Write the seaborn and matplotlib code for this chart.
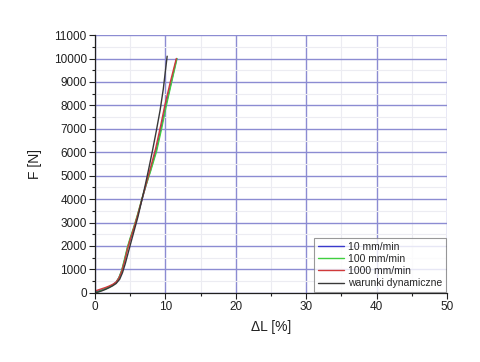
import numpy as np
import pandas as pd
import matplotlib
matplotlib.use("Agg")
import matplotlib.pyplot as plt
import seaborn as sns
from matplotlib.ticker import MultipleLocator

series_names = ["10 mm/min", "100 mm/min", "1000 mm/min", "warunki dynamiczne"]
colors = ["#3a3acc", "#3fcf3f", "#d03a3a", "#383838"]

blue_x = [0, 0.5, 1, 1.5, 2, 2.5, 3, 3.4, 3.8, 4.2, 4.6, 5.0, 5.5, 6.0, 6.6, 7.2, 7.9, 8.7, 9.4, 10.05, 10.8, 11.6]
blue_y = [30, 80, 130, 190, 260, 340, 460, 650, 950, 1400, 1900, 2300, 2750, 3250, 3900, 4550, 5250, 6100, 7050, 8000, 8950, 10000]

green_x = [0, 0.5, 1, 1.5, 2, 2.5, 3, 3.4, 3.8, 4.2, 4.6, 5.0, 5.5, 6.0, 6.6, 7.2, 7.9, 8.75, 9.45, 10.1, 10.85, 11.65]
green_y = [0, 50, 110, 170, 240, 320, 450, 650, 970, 1450, 1950, 2350, 2800, 3300, 3950, 4550, 5200, 6050, 7000, 7950, 8950, 10000]

red_x = [0, 0.5, 1, 1.5, 2, 2.5, 3, 3.4, 3.8, 4.2, 4.6, 5.0, 5.5, 6.0, 6.6, 7.2, 7.85, 8.6, 9.3, 9.95, 10.7, 11.55]
red_y = [80, 130, 180, 230, 290, 360, 460, 630, 920, 1350, 1850, 2280, 2750, 3250, 3920, 4580, 5300, 6150, 7100, 8050, 9000, 10000]

black_x = [0, 0.5, 1, 1.5, 2, 2.5, 3, 3.5, 3.9, 4.3, 4.7, 5.1, 5.6, 6.1, 6.6, 7.1, 7.6, 8.15, 8.7, 9.25, 9.7, 10.05, 10.25]
black_y = [0, 40, 90, 150, 220, 300, 400, 580, 860, 1250, 1700, 2150, 2700, 3250, 3900, 4550, 5250, 6050, 6900, 7800, 8700, 9600, 10100]

all_x = [blue_x, green_x, red_x, black_x]
all_y = [blue_y, green_y, red_y, black_y]

frames = []
for name, xs, ys in zip(series_names, all_x, all_y):
    frames.append(pd.DataFrame({"dL": xs, "F": ys, "seria": name}))
df = pd.concat(frames, ignore_index=True)

sns.set_theme(style="white")
plt.rcParams["font.family"] = ["Liberation Sans", "DejaVu Sans"]

fig = plt.figure(figsize=(4.8, 3.62), dpi=100)
ax = fig.add_axes([0.198, 0.191, 0.733, 0.712])

sns.lineplot(data=df, x="dL", y="F", hue="seria", hue_order=series_names,
             palette=colors, sort=False, estimator=None, units="seria",
             linewidth=1.0, ax=ax, legend=True)

ax.set_xlim(0, 50)
ax.set_ylim(0, 11000)
ax.xaxis.set_major_locator(MultipleLocator(10))
ax.xaxis.set_minor_locator(MultipleLocator(5))
ax.yaxis.set_major_locator(MultipleLocator(1000))
ax.yaxis.set_minor_locator(MultipleLocator(500))

ax.grid(which="major", color="#8c8cd2", linewidth=1.0)
ax.grid(which="minor", color="#ececf2", linewidth=0.8)
ax.set_axisbelow(True)

for s in ["top", "right"]:
    ax.spines[s].set_visible(False)
for s in ["left", "bottom"]:
    ax.spines[s].set_color("#202020")
    ax.spines[s].set_linewidth(0.9)

ax.tick_params(which="major", direction="out", length=4, width=0.8, color="#202020",
               labelsize=8.5, left=True, bottom=True, pad=2, labelcolor="#202020")
ax.tick_params(which="minor", direction="out", length=2.5, width=0.8, color="#202020",
               left=True, bottom=True)

ax.set_xlabel("\u0394L [%]", fontsize=10, labelpad=5, color="#202020")
ax.set_ylabel("F [N]", fontsize=10, labelpad=8, color="#202020")

leg = ax.legend(loc="lower right", fontsize=7.5, frameon=True, fancybox=False,
                edgecolor="#808080", borderaxespad=0.1, handlelength=2.5,
                labelspacing=0.2, borderpad=0.35, handletextpad=0.4)
leg.get_frame().set_linewidth(0.8)

fig.savefig("out.png", dpi=100, facecolor="white")
